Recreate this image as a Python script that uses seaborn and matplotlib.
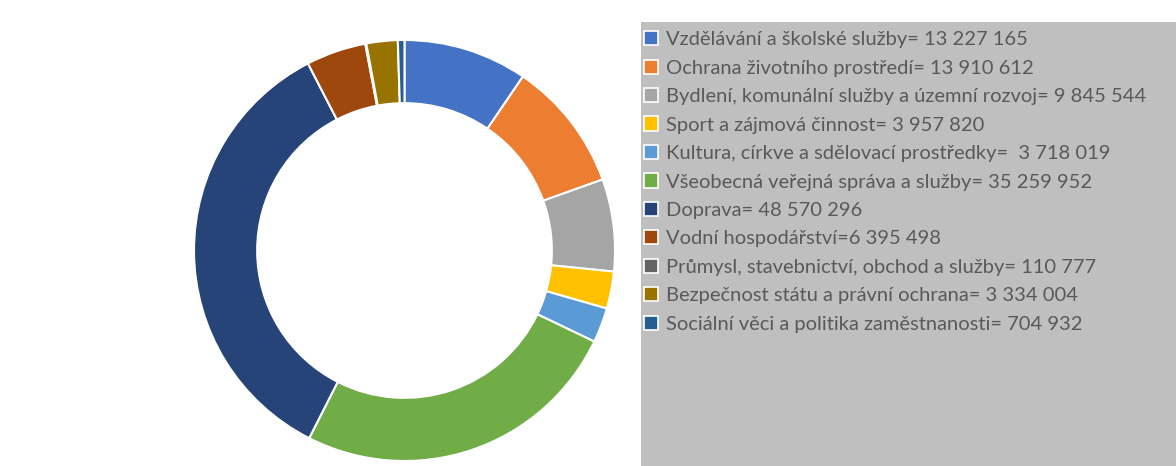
import matplotlib
matplotlib.use("Agg")
import matplotlib.pyplot as plt
from matplotlib.patches import Rectangle, Patch
import seaborn as sns

# data (Kč)
labels = [
    "Vzdělávání a školské služby= 13 227 165",
    "Ochrana životního prostředí= 13 910 612",
    "Bydlení, komunální služby a územní rozvoj= 9 845 544",
    "Sport a zájmová činnost= 3 957 820",
    "Kultura, církve a sdělovací prostředky=  3 718 019",
    "Všeobecná veřejná správa a služby= 35 259 952",
    "Doprava= 48 570 296",
    "Vodní hospodářství=6 395 498",
    "Průmysl, stavebnictví, obchod a služby= 110 777",
    "Bezpečnost státu a právní ochrana= 3 334 004",
    "Sociální věci a politika zaměstnanosti= 704 932",
]
values = [13227165, 13910612, 9845544, 3957820, 3718019, 35259952,
          48570296, 6395498, 110777, 3334004, 704932]
colors = ["#4472C4", "#ED7D31", "#A5A5A5", "#FFC000", "#5B9BD5", "#70AD47",
          "#264478", "#9E480E", "#636363", "#997300", "#255E91"]

sns.set_theme(style="white")
plt.rcParams['font.family'] = ['Lato', 'DejaVu Sans']

fig = plt.figure(figsize=(11.76, 4.66), dpi=100)
W, H = 1176, 466

# donut
ax = fig.add_axes([194 / W, 1 - 461 / H, 421 / W, 421 / H])
palette = sns.color_palette(colors)
ax.pie(values, colors=palette, startangle=90, counterclock=False,
       wedgeprops=dict(width=0.3, edgecolor="white", linewidth=1.5))
ax.set_xlim(-1.0, 1.0)
ax.set_ylim(-1.0, 1.0)
ax.set_aspect("equal")
ax.axis("off")

# grey legend area
fig.patches.append(Rectangle((641 / W, 0), 1 - 641 / W, 1 - 22 / H,
                             transform=fig.transFigure, facecolor="#BFBFBF",
                             edgecolor="none", zorder=0))

handles = [Patch(facecolor=c, edgecolor="white", linewidth=1.2) for c in colors]
leg = fig.legend(handles, labels, loc="upper left",
                 bbox_to_anchor=(640 / W, 1 - 27 / H), frameon=False,
                 fontsize=14.5, handlelength=0.7, handleheight=0.7,
                 handletextpad=0.4, labelspacing=0.565, borderaxespad=0,
                 borderpad=0.2)
for t in leg.get_texts():
    t.set_color("#595959")

fig.savefig("out.png", dpi=100)
